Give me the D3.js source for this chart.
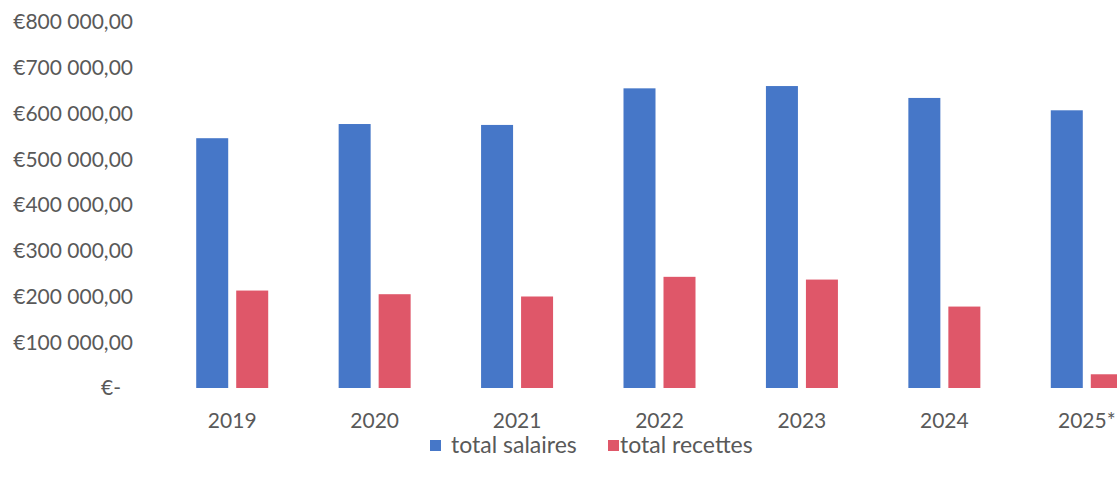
<!DOCTYPE html>
<html>
<head>
<meta charset="utf-8">
<script src="https://cdn.jsdelivr.net/npm/d3@7"></script>
<style>
  body { margin: 0; background: #fff; overflow: hidden; }
  text { font-family: Lato, 'Open Sans', sans-serif; fill: #595959; }
</style>
</head>
<body>
<div id="chart"></div>
<script>
const years = ['2019', '2020', '2021', '2022', '2023', '2024', '2025*']
const salaires = [546000, 577000, 575000, 655000, 660000, 634000, 607000]
const recettes = [213000, 205000, 200000, 243000, 237000, 178000, 30000]
const yTicks = [0, 100000, 200000, 300000, 400000, 500000, 600000, 700000, 800000]
const seriesNames = ['total salaires', 'total recettes']
const colors = ['#4677c8', '#df5769']

const width = 1117, height = 483

const svg = d3.select('#chart')
  .append('svg')
  .attr('width', width)
  .attr('height', height)

const x = d3.scaleBand().domain(years).range([161, 1158])
const y = d3.scaleLinear().domain([0, 800000]).range([388, 22])

const fmt = v => v === 0 ? '€-' : '€' + d3.format(',.2f')(v).replace(/,/g, ' ').replace('.', ',')

// y labels
const yAxis = svg.append('g')
yAxis.selectAll('text')
  .data(yTicks)
  .join('text')
  .attr('x', d => d === 0 ? 121 : 133)
  .attr('y', d => y(d))
  .attr('dy', '0.35em')
  .attr('text-anchor', 'end')
  .style('font-size', '21px')
  .text(fmt)

// x labels
svg.append('g')
  .selectAll('text')
  .data(years)
  .join('text')
  .attr('x', d => x(d) + x.bandwidth() / 2)
  .attr('y', 428)
  .attr('text-anchor', 'middle')
  .style('font-size', '21px')
  .text(d => d)

const barW = 32, gap = 8
const groups = [salaires, recettes]
groups.forEach((vals, si) => {
  svg.append('g')
    .selectAll('rect')
    .data(vals)
    .join('rect')
    .attr('x', (d, i) => x(years[i]) + x.bandwidth() / 2 - barW - gap / 2 + si * (barW + gap))
    .attr('y', d => y(d))
    .attr('width', barW)
    .attr('height', d => y(0) - y(d))
    .style('fill', colors[si])
})

// legend
const legend = svg.append('g')
const legendX = [430, 608]
seriesNames.forEach((name, i) => {
  legend.append('rect')
    .attr('x', legendX[i])
    .attr('y', 440)
    .attr('width', 11)
    .attr('height', 11)
    .style('fill', colors[i])
  legend.append('text')
    .attr('x', legendX[i] + (i === 0 ? 21 : 12))
    .attr('y', 453)
    .style('font-size', '23px')
    .text(name)
})
</script>
</body>
</html>
